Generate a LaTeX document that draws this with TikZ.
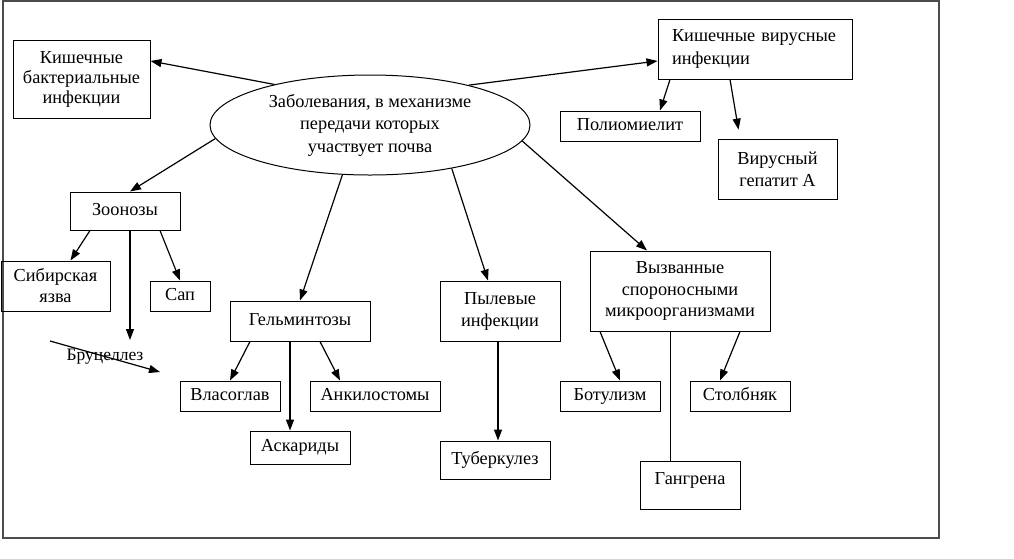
\documentclass[tikz,border=0pt]{standalone}
\usepackage{fontspec}
\setmainfont{Liberation Serif}
\usetikzlibrary{arrows.meta,shapes.geometric,calc}
\begin{document}
\begin{tikzpicture}[x=1pt,y=-1pt,
  box/.style={draw,line width=1pt,inner sep=0pt,align=center,font=\fontsize{18.3}{21}\selectfont},
  one/.style={text height=12.5pt,text depth=4pt},
  arr/.style={line width=1.2pt,-{Triangle[length=11pt,width=8pt]}},
  ln/.style={line width=1pt}]
\useasboundingbox (0,0) rectangle (1014,558);
\draw[gray!60!black,line width=1.2pt] (3,1) rectangle (939,538);
% nodes
\node[draw,ellipse,line width=1pt,inner sep=0pt,minimum width=320pt,minimum height=100pt,align=center,font=\fontsize{18.3}{22.5}\selectfont] (ell) at (370,125) {Заболевания, в механизме\\передачи которых\\участвует почва};
\node[box,minimum width=137pt,minimum height=78pt,font=\fontsize{18.3}{20}\selectfont] (kb) at (81.5,79) {Кишечные\\бактериальные\\инфекции};
\node[box,text width=166pt,inner xsep=14pt,minimum height=60pt,align=left,font=\fontsize{18.3}{23}\selectfont] (kv) at (755,49) {Кишечные вирусные\\инфекции};
\node[box,one,minimum width=140pt,minimum height=30pt] (pol) at (630,126) {Полиомиелит};
\node[box,minimum width=119pt,minimum height=60pt,font=\fontsize{18.3}{22}\selectfont] (gep) at (777.5,169) {Вирусный\\гепатит А};
\node[box,one,minimum width=110pt,minimum height=38pt] (zoo) at (125,211) {Зоонозы};
\node[box,minimum width=109pt,minimum height=50pt] (sib) at (55.5,286) {Сибирская\\язва};
\node[box,one,minimum width=60pt,minimum height=30pt] (sap) at (180,296) {Сап};
\node[font=\fontsize{17.5}{20}\selectfont,inner sep=0pt] (bru) at (105,357) {Бруцеллез};
\node[box,one,minimum width=140pt,minimum height=40pt] (gel) at (300,321) {Гельминтозы};
\node[box,one,minimum width=100pt,minimum height=30pt] (vlas) at (230,396) {Власоглав};
\node[box,one,minimum width=130pt,minimum height=30pt] (ank) at (375,396) {Анкилостомы};
\node[box,one,minimum width=100pt,minimum height=33pt] (ask) at (300,447.5) {Аскариды};
\node[box,minimum width=120pt,minimum height=60pt,font=\fontsize{18.3}{22}\selectfont] (pyl) at (500,311) {Пылевые\\инфекции};
\node[box,one,minimum width=110pt,minimum height=38pt] (tub) at (495,460) {Туберкулез};
\node[box,minimum width=180pt,minimum height=80pt,font=\fontsize{18.3}{21.5}\selectfont] (vyz) at (680,291) {Вызванные\\спороносными\\микроорганизмами};
\node[box,one,minimum width=100pt,minimum height=30pt] (bot) at (610,396) {Ботулизм};
\node[box,one,minimum width=100pt,minimum height=30pt] (stol) at (740,396) {Столбняк};
\node[box,minimum width=100pt,minimum height=48pt] (gang) at (690,485) {Гангрена\\[-7pt]\mbox{}};
\coordinate (zend) at (130,340);
\coordinate (bs) at (50,341);
\coordinate (be) at (160,372);
% connectors
\draw[arr] (ell.157) -- ([yshift=18pt]kb.east);
\draw[arr] (ell.22) -- ([yshift=-12pt]kv.west);
\draw[arr] (ell.185) -- ([xshift=5pt]zoo.north);
\draw[arr] (ell.241) -- (gel.north);
\draw[arr] (ell.332) -- ([xshift=-12pt]pyl.north);
\draw[arr] (ell.354) -- ([xshift=-33pt]vyz.north);
\draw[arr] ([xshift=-85pt]kv.south) -- ([xshift=30pt]pol.north);
\draw[arr,shorten >=9pt] ([xshift=-25pt]kv.south) -- ([xshift=-37.5pt]gep.north);
\draw[arr] ([xshift=-35pt]zoo.south) -- ([xshift=15pt]sib.north);
\draw[arr] ([xshift=5pt]zoo.south) -- (zend);
\draw[arr] ([xshift=35pt]zoo.south) -- (sap.north);
\draw[arr] (bs) -- (be);
\draw[arr] ([xshift=-50pt]gel.south) -- (vlas.north);
\draw[arr] ([xshift=-10pt]gel.south) -- ([xshift=-10pt]ask.north);
\draw[arr] ([xshift=20pt]gel.south) -- ([xshift=-35pt]ank.north);
\draw[arr] ([xshift=-2pt]pyl.south) -- ([xshift=3pt]tub.north);
\draw[arr] ([xshift=-80pt]vyz.south) -- ([xshift=10pt]bot.north);
\draw[arr] ([xshift=60pt]vyz.south) -- ([xshift=-20pt]stol.north);
\draw[ln] ([xshift=-10pt]vyz.south) -- ([xshift=-10pt]vyz.south |- gang.north);
\end{tikzpicture}
\end{document}
